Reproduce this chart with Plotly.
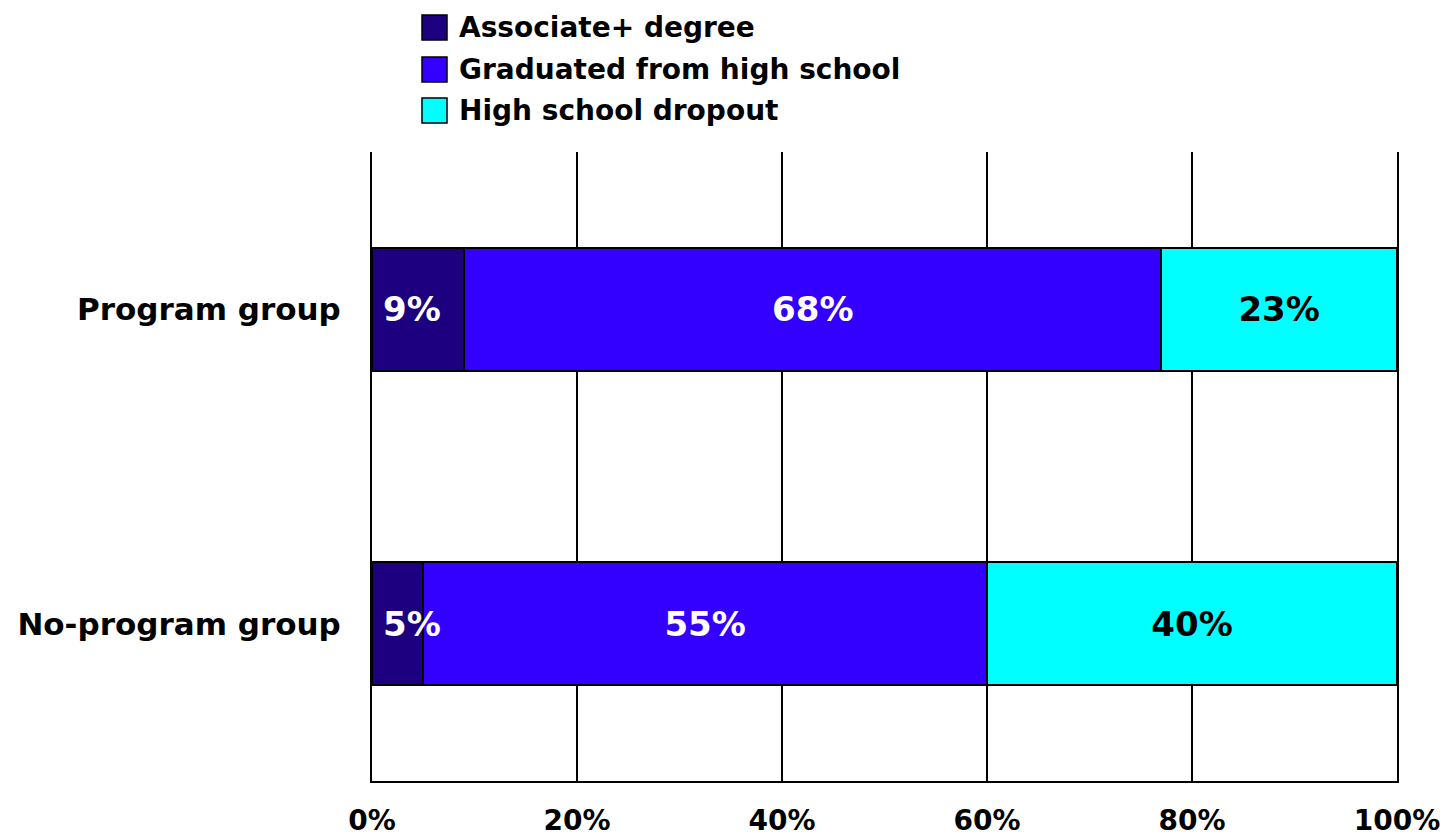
import plotly.graph_objects as go

categories = ["Program group", "No-program group"]
series_names = ["Associate+ degree", "Graduated from high school", "High school dropout"]
associate = [9, 5]
graduated = [68, 55]
dropout = [23, 40]
x_ticks = [0, 20, 40, 60, 80, 100]
x_tick_labels = ["0%", "20%", "40%", "60%", "80%", "100%"]

colors = ["#1C0080", "#3300FF", "#00FFFF"]
text_colors = ["white", "white", "black"]
FONT = "DejaVu Sans, Verdana, sans-serif"

fig = go.Figure()
values = [associate, graduated, dropout]
for i, (name, vals) in enumerate(zip(series_names, values)):
    show_text = i > 0
    fig.add_trace(go.Bar(
        y=categories, x=vals, name=name, orientation="h",
        marker=dict(color=colors[i], line=dict(color="black", width=2)),
        text=[f"<b>{v}%</b>" for v in vals] if show_text else None,
        textposition="inside" if show_text else "none",
        insidetextanchor="middle",
        textangle=0,
        constraintext="none",
        textfont=dict(family=FONT, size=34, color=text_colors[i]),
        showlegend=False,
        hoverinfo="x+y+name",
    ))

# labels of the first (narrow) segment, left aligned from the axis start
for cat, v in zip(categories, associate):
    fig.add_annotation(x=0, y=cat, xref="x", yref="y", text=f"<b>{v}%</b>",
                       xanchor="left", yanchor="middle", xshift=9, showarrow=False,
                       font=dict(family=FONT, size=34, color="white"))

# manual legend with large square swatches
leg_y = [27.5, 69.5, 110.5]  # pixel centers from top of figure
H = 838
plot_top, plot_bot = 152, 781
ph = plot_bot - plot_top
pl, pr = 372, 1397
pw = pr - pl
def px_x(p):
    return (p - pl) / pw
def px_y(p):
    return (plot_bot - p) / ph
for i, name in enumerate(series_names):
    cy = leg_y[i]
    fig.add_shape(type="rect", xref="paper", yref="paper",
                  x0=px_x(422), x1=px_x(447), y0=px_y(cy + 12.5), y1=px_y(cy - 12.5),
                  fillcolor=colors[i], line=dict(color="black", width=1.5))
    fig.add_annotation(x=px_x(457), y=px_y(cy), xref="paper", yref="paper",
                       text=f"<b>{name}</b>", showarrow=False, xanchor="left", yanchor="middle",
                       font=dict(family=FONT, size=28, color="black"))

fig.update_layout(
    barmode="stack",
    bargap=0.61,
    width=1445, height=838,
    margin=dict(l=pl, r=1445 - pr, t=plot_top, b=H - plot_bot, pad=0),
    paper_bgcolor="white", plot_bgcolor="white",
    font=dict(family=FONT, color="black"),
    showlegend=False,
)
fig.update_xaxes(
    range=[0, 100], tickvals=x_ticks, ticktext=[f"<b>{t}</b>" for t in x_tick_labels],
    tickfont=dict(family=FONT, size=28, color="black"),
    showgrid=True, gridcolor="black", gridwidth=2,
    zeroline=False, showline=True, linecolor="black", linewidth=2,
    ticks="", ticklabelstandoff=13, fixedrange=True, automargin=False,
)
fig.update_yaxes(
    categoryorder="array", categoryarray=categories,
    range=[1.5, -0.5],
    tickvals=categories, ticktext=[f"<b>{c}</b>" for c in categories],
    tickfont=dict(family=FONT, size=31, color="black"),
    showgrid=False, zeroline=False, showline=True, mirror=True,
    linecolor="black", linewidth=2,
    ticks="", ticklabelstandoff=23, fixedrange=True, automargin=False,
)

fig.write_html("out.html")
